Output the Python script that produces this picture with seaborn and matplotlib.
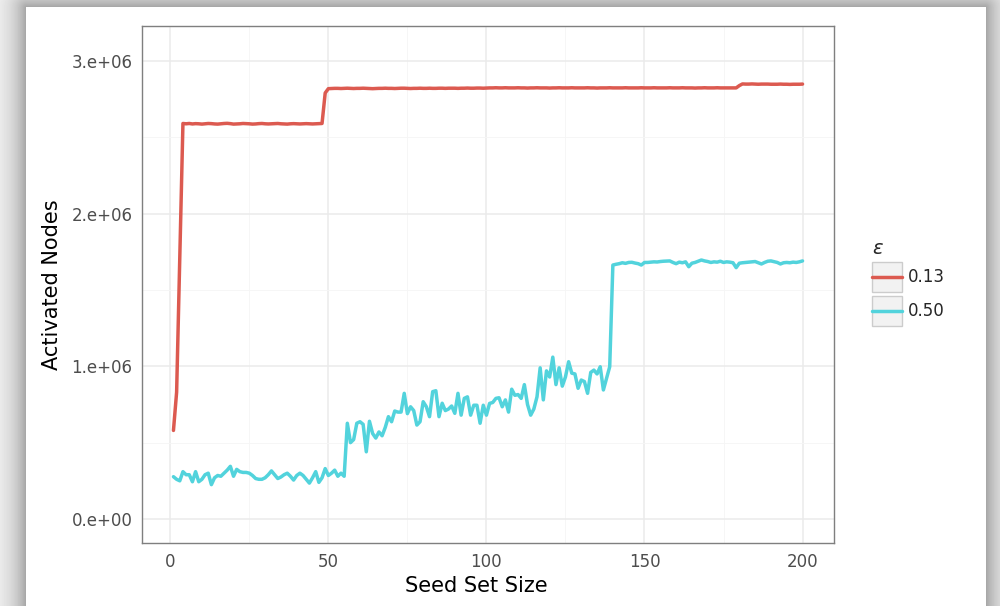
import numpy as np
import pandas as pd
import matplotlib
matplotlib.use("Agg")
import matplotlib.pyplot as plt
import seaborn as sns
from matplotlib.legend_handler import HandlerBase
from matplotlib.patches import Rectangle
from matplotlib.lines import Line2D

# ---- data (activated nodes, in millions) ----
seed_set_size = list(range(1, 201))

eps_013 = [
    0.58, 0.83, 1.72, 2.59,
    2.588, 2.590, 2.587, 2.589, 2.588, 2.586, 2.588, 2.590, 2.589, 2.587,
    2.586, 2.588, 2.590, 2.591, 2.589, 2.586, 2.587, 2.588, 2.590, 2.589,
    2.588, 2.586, 2.587, 2.589, 2.590, 2.588, 2.587, 2.588, 2.589, 2.590,
    2.588, 2.587, 2.586, 2.588, 2.589, 2.588, 2.587, 2.588, 2.589, 2.588,
    2.587, 2.588, 2.589, 2.590,
    2.79,
    2.818, 2.819, 2.820, 2.820, 2.819, 2.820, 2.821, 2.820, 2.819, 2.820,
    2.820, 2.821, 2.820, 2.819, 2.818, 2.819, 2.820, 2.820, 2.821, 2.820,
    2.820, 2.819, 2.820, 2.821, 2.821, 2.820, 2.819, 2.820, 2.820, 2.821,
    2.820, 2.820, 2.821, 2.820, 2.820, 2.821, 2.821, 2.820, 2.821, 2.821,
    2.821, 2.820, 2.821, 2.821, 2.822, 2.821, 2.821, 2.822, 2.822, 2.821,
    2.822,
    2.823, 2.823, 2.824, 2.823, 2.823, 2.824, 2.823, 2.823, 2.823, 2.824,
    2.823, 2.823, 2.822, 2.823, 2.823, 2.824, 2.823, 2.823, 2.823, 2.822,
    2.823, 2.823, 2.824, 2.823, 2.823, 2.823, 2.824, 2.823, 2.823, 2.823,
    2.823, 2.824, 2.823, 2.823, 2.822, 2.823, 2.823, 2.823, 2.824, 2.823,
    2.823, 2.823, 2.823, 2.824, 2.823, 2.823, 2.823, 2.823, 2.824, 2.823,
    2.823, 2.823, 2.824, 2.823, 2.823, 2.823, 2.823, 2.824, 2.823, 2.823,
    2.823, 2.824, 2.823, 2.823, 2.823, 2.822, 2.823, 2.823, 2.824, 2.823,
    2.823, 2.823, 2.824, 2.823, 2.823, 2.823, 2.823, 2.823, 2.823,
    2.838,
    2.849, 2.848, 2.848, 2.849, 2.848, 2.847, 2.848, 2.848, 2.848, 2.847,
    2.847, 2.847, 2.848, 2.847, 2.847, 2.846, 2.847, 2.847, 2.847, 2.848,
]

eps_050 = [
    0.277, 0.260, 0.250, 0.310, 0.290, 0.290, 0.244, 0.310, 0.244, 0.260,
    0.290, 0.300, 0.225, 0.270, 0.285, 0.280, 0.300, 0.320, 0.345, 0.280,
    0.325, 0.310, 0.305, 0.305, 0.300, 0.285, 0.265, 0.260, 0.260, 0.270,
    0.290, 0.315, 0.290, 0.265, 0.275, 0.290, 0.300, 0.280, 0.255, 0.285,
    0.300, 0.285, 0.260, 0.235, 0.270, 0.310, 0.240, 0.270, 0.330, 0.285,
    0.300, 0.320, 0.280, 0.300, 0.280, 0.627, 0.500, 0.520, 0.627, 0.637,
    0.620, 0.440, 0.640, 0.560, 0.530, 0.570, 0.545, 0.600, 0.670, 0.637,
    0.707, 0.700, 0.700, 0.823, 0.690, 0.735, 0.710, 0.615, 0.637, 0.768,
    0.735, 0.670, 0.834, 0.840, 0.670, 0.758, 0.710, 0.720, 0.740, 0.692,
    0.823, 0.680, 0.790, 0.800, 0.680, 0.745, 0.745, 0.627, 0.745, 0.680,
    0.757, 0.763, 0.790, 0.794, 0.735, 0.780, 0.700, 0.850, 0.810, 0.815,
    0.790, 0.880, 0.750, 0.680, 0.720, 0.800, 0.990, 0.780, 0.970, 0.930,
    1.060, 0.880, 0.990, 0.870, 0.930, 1.030, 0.955, 0.950, 0.856, 0.910,
    0.900, 0.823, 0.960, 0.975, 0.950, 0.997, 0.845, 0.920, 0.997, 1.663,
    1.668, 1.672, 1.678, 1.674, 1.680, 1.681, 1.676, 1.672, 1.663, 1.680,
    1.680, 1.682, 1.684, 1.683, 1.686, 1.688, 1.689, 1.690, 1.680, 1.672,
    1.682, 1.678, 1.684, 1.652, 1.675, 1.680, 1.688, 1.696, 1.690, 1.686,
    1.680, 1.684, 1.682, 1.688, 1.680, 1.684, 1.682, 1.678, 1.646, 1.675,
    1.678, 1.680, 1.682, 1.684, 1.686, 1.678, 1.670, 1.680, 1.688, 1.690,
    1.685, 1.680, 1.670, 1.678, 1.680, 1.678, 1.682, 1.680, 1.684, 1.690,
]

eps_labels = ["0.13", "0.50"]
line_colors = ["#dc5a50", "#52d3dc"]

y_tick_values = [0, 1e6, 2e6, 3e6]
y_tick_labels = ["0.e+00", "1.e+06", "2.e+06", "3.e+06"]
x_tick_values = [0, 50, 100, 150, 200]

df = pd.DataFrame({
    "Seed Set Size": seed_set_size * 2,
    "Activated Nodes": np.array(eps_013 + eps_050) * 1e6,
    "eps": [eps_labels[0]] * len(eps_013) + [eps_labels[1]] * len(eps_050),
})

# ---- figure ----
sns.set_style("white")
plt.rcParams["font.family"] = ["DejaVu Sans"]

W, H = 1000, 606
fig = plt.figure(figsize=(W / 100, H / 100), dpi=100)

# white card on a soft grey shadow
bg = fig.add_axes([0, 0, 1, 1], zorder=-10)
bg.axis("off")
yy, xx = np.mgrid[0:H, 0:W]
left, right, top = 26, 985, 7
dx = np.maximum(np.maximum(left - xx, xx - right), 0)
dy = np.maximum(top - yy, 0)
dist = np.hypot(dx, dy)
shade = 1 - 0.36 * np.exp(-dist / 18.0)
shade[(dx == 0) & (dy == 0)] = 1.0
bg.imshow(shade, cmap="gray", vmin=0, vmax=1, extent=[0, 1, 0, 1],
          aspect="auto", interpolation="bilinear")

ax = fig.add_axes([0.142, 0.104, 0.692, 0.853])
ax.set_facecolor("white")
sns.lineplot(data=df, x="Seed Set Size", y="Activated Nodes", hue="eps",
             palette=dict(zip(eps_labels, line_colors)), linewidth=2.5,
             ax=ax, legend=False)

ax.set_xlim(-8.95, 209.95)
ax.set_ylim(-0.157e6, 3.228e6)
ax.set_xticks(x_tick_values)
ax.set_xticks([25, 75, 125, 175], minor=True)
ax.set_yticks(y_tick_values)
ax.set_yticklabels(y_tick_labels)
ax.set_yticks([0.5e6, 1.5e6, 2.5e6], minor=True)

ax.grid(which="major", color="#ebebeb", linewidth=1.1)
ax.grid(which="minor", color="#f5f5f5", linewidth=0.6)
ax.set_axisbelow(True)
ax.tick_params(which="minor", length=0)
ax.tick_params(which="major", length=4, width=1, color="#333333",
               labelsize=12, labelcolor="#4d4d4d", pad=3)
for sp in ax.spines.values():
    sp.set_color("#7f7f7f")
    sp.set_linewidth(1.0)

ax.set_xlabel("Seed Set Size", fontsize=15, color="black", labelpad=4)
ax.xaxis.label.set_x(0.483)
ax.set_ylabel("Activated Nodes", fontsize=15, color="black", labelpad=7)


class KeyHandler(HandlerBase):
    def create_artists(self, legend, orig_handle, xdescent, ydescent,
                       width, height, fontsize, trans):
        box = Rectangle((-xdescent, -ydescent), width, height,
                        facecolor="#f2f2f2", edgecolor="#cccccc",
                        linewidth=1.0, transform=trans)
        ln = Line2D([-xdescent, -xdescent + width],
                    [-ydescent + height / 2] * 2,
                    color=orig_handle.get_color(),
                    linewidth=orig_handle.get_linewidth(), transform=trans)
        return [box, ln]


handles = [Line2D([], [], color=c, linewidth=2.5) for c in line_colors]
leg = fig.legend(handles, eps_labels, title="ε", loc="upper left",
                 bbox_to_anchor=(864 / W, 1 - 231 / H), frameon=False,
                 handler_map={Line2D: KeyHandler()}, handlelength=1.8,
                 handleheight=2.39, labelspacing=0.24, handletextpad=0.36,
                 borderpad=0, fontsize=12, title_fontsize=14)
leg._legend_box.align = "left"
leg.get_title().set_fontstyle("italic")

fig.savefig("out.png", dpi=100)
